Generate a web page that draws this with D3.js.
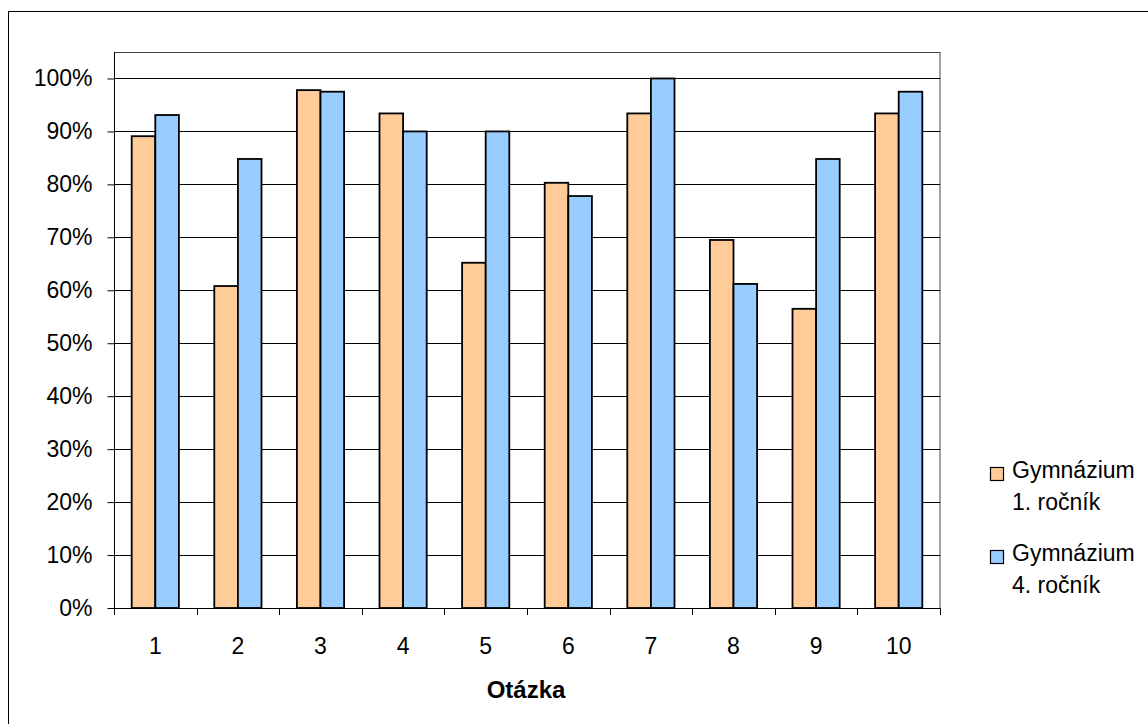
<!DOCTYPE html>
<html><head><meta charset="utf-8">
<script src="https://cdn.jsdelivr.net/npm/d3@7"></script>
<style>body{margin:0;background:#fff}svg{display:block}text{font-family:"Liberation Sans",Arial,sans-serif}</style>
</head><body>
<svg id="c" width="1148" height="724"></svg>
<script>
const categories = ["1","2","3","4","5","6","7","8","9","10"];
const seriesNames = ["Gymnázium|1. ročník","Gymnázium|4. ročník"];
const series1 = [0.891,0.608,0.978,0.934,0.652,0.803,0.934,0.695,0.565,0.934];
const series4 = [0.931,0.848,0.975,0.900,0.900,0.778,1.000,0.612,0.848,0.975];
const yTicks = [0,0.1,0.2,0.3,0.4,0.5,0.6,0.7,0.8,0.9,1.0];
const colors = ["#FFCC99","#99CCFF"];

const svg = d3.select("#c");
const L=114, R=940, T=52, B=608;
const FS = 23;
svg.append("rect").attr("x",8.5).attr("y",11.5).attr("width",1150).attr("height",730)
  .attr("fill","none").attr("stroke","#000").attr("stroke-width",1);

const x = d3.scaleBand().domain(categories).range([L,R]).paddingInner(0).paddingOuter(0);
const y = d3.scaleLinear().domain([0,1.05]).range([B,T]);
const x1 = d3.scaleBand().domain([0,1]).range([0,x.bandwidth()*2/3.5]);

// plot area border
svg.append("rect").attr("x",L+0.5).attr("y",T+0.5).attr("width",R-L-0.5).attr("height",B-T)
  .attr("fill","#fff").attr("stroke","#444").attr("stroke-width",1);
// gridlines
svg.append("g").selectAll("line").data(yTicks.slice(1)).join("line")
  .attr("x1",L).attr("x2",R).attr("y1",d=>Math.round(y(d))+0.5).attr("y2",d=>Math.round(y(d))+0.5)
  .attr("stroke","#000").attr("stroke-width",1);

// bars
const data = categories.map((c,i)=>({c,v:[series1[i],series4[i]]}));
const off = (x.bandwidth()-x.bandwidth()*2/3.5)/2;
const g = svg.append("g");
data.forEach(d=>{
  d.v.forEach((v,j)=>{
    g.append("rect").attr("x",x(d.c)+off+x1(j)).attr("y",y(v))
      .attr("width",x1.bandwidth()).attr("height",B-y(v))
      .attr("fill",colors[j]).attr("stroke","#000").attr("stroke-width",1.8);
  });
});

// y axis
const ya = svg.append("g").attr("transform",`translate(${L+0.5},0)`)
  .call(d3.axisLeft(y).tickValues(yTicks).tickFormat(d3.format(".0%")).tickSize(7).tickPadding(15));
ya.select(".domain").attr("d",`M0,${T}V${B}`).attr("stroke","#000");
ya.selectAll(".tick line").attr("stroke","#000");
ya.selectAll("text").attr("font-size",FS).attr("fill","#000").attr("font-family","Liberation Sans, Arial, sans-serif");

// x axis
const xa = svg.append("g").attr("transform",`translate(0,${B+0.5})`)
  .call(d3.axisBottom(x).tickSize(0).tickPadding(29));
xa.select(".domain").attr("d",`M${L},0H${R}`).attr("stroke","#000");
xa.selectAll("text").attr("font-size",FS).attr("fill","#000").attr("font-family","Liberation Sans, Arial, sans-serif");
svg.append("g").selectAll("line").data(d3.range(categories.length+1)).join("line")
  .attr("x1",i=>Math.round(L+i*x.step())+0.5).attr("x2",i=>Math.round(L+i*x.step())+0.5)
  .attr("y1",B).attr("y2",B+7).attr("stroke","#000");

svg.append("text").attr("x",526).attr("y",698).attr("text-anchor","middle")
  .attr("font-size",24).attr("font-weight","bold").text("Otázka");

// legend
const lg = svg.append("g");
seriesNames.forEach((n,i)=>{
  const yy = 467 + i*83;
  lg.append("rect").attr("x",990.5).attr("y",yy+0.5).attr("width",13).attr("height",13)
    .attr("fill",colors[i]).attr("stroke","#000").attr("stroke-width",1.2);
  const parts = n.split("|");
  lg.append("text").attr("x",1012).attr("y",yy+11).attr("font-size",FS).text(parts[0]);
  lg.append("text").attr("x",1012).attr("y",yy+43).attr("font-size",FS).text(parts[1]);
});
</script>
</body></html>
